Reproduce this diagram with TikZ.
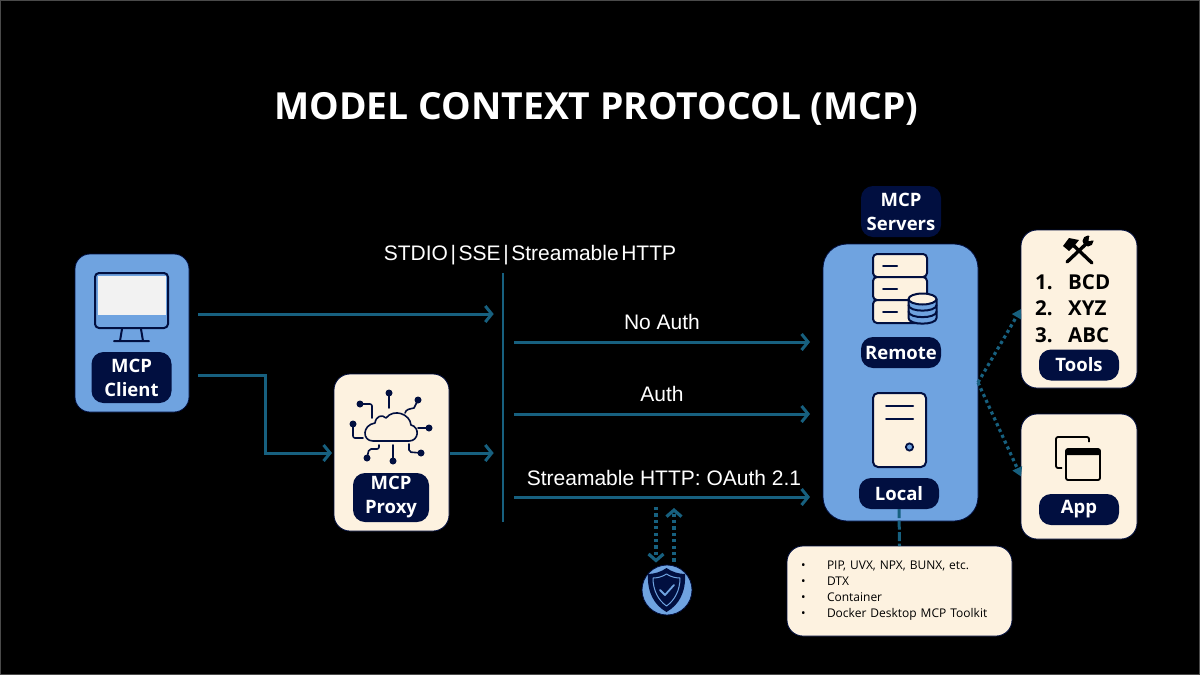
\documentclass[tikz,border=0pt]{standalone}
\usepackage{fontspec}
\setmainfont{Open Sans}
\newfontfamily\captfont{Liberation Sans}
\usetikzlibrary{arrows.meta, positioning, calc}
\definecolor{boxblue}{HTML}{6FA3E0}
\definecolor{boxcream}{HTML}{FDF2E0}
\definecolor{navy}{HTML}{010F40}
\definecolor{flowblue}{HTML}{17607F}
\definecolor{pagegrey}{HTML}{4A4A4A}

\begin{document}
\begin{tikzpicture}[x=1pt, y=-1pt,
    bluebox/.style={rectangle,draw=navy,line width=0.8pt,fill=boxblue,rounded corners=15pt,outer sep=0pt},
    creambox/.style={rectangle,draw=navy,line width=0.8pt,fill=boxcream,rounded corners=16pt,outer sep=0pt},
    darklabel/.style={rectangle,fill=navy,text=white,rounded corners=12pt,align=center,inner sep=0pt,
      minimum width=80pt,font=\fontsize{18.5}{24}\selectfont\bfseries},
    capt/.style={text=white,inner sep=0pt,font=\fontsize{21}{24}\captfont},
    flow/.style={draw=flowblue,line width=3pt,-{Straight Barb[length=6.5pt,width=16pt]}},
    dotflow/.style={draw=flowblue,line width=3.2pt,dash pattern=on 3.2pt off 3.2pt},
    icon/.style={draw=navy,line width=2pt,line join=round,line cap=round}]
  \useasboundingbox (0,0) rectangle (1200,675);
  \fill[black] (0,0) rectangle (1200,675);
  \draw[pagegrey,line width=2.6pt] (0,0) rectangle (1200,675);

  \node (title) [text=white,inner sep=0pt,font=\fontsize{37.3}{44}\selectfont\bfseries] at (596.5,109) {MODEL CONTEXT PROTOCOL (MCP)};

  % client
  \node (client) [bluebox,minimum width=114pt,minimum height=158pt] at (132,333) {};
  \node (clientlabel) [darklabel,minimum height=51pt] at (131.5,377.5) {MCP\\Client};

  % proxy
  \node (proxy) [creambox,minimum width=115pt,minimum height=157pt] at (391.5,452.5) {};
  \node (proxylabel) [darklabel,minimum width=76pt,minimum height=49pt] at (391,497.5) {MCP\\Proxy};

  % servers
  \node (servers) [bluebox,rounded corners=24pt,minimum width=155pt,minimum height=277pt] at (900.5,382.5) {};
  \node (serverstitle) [darklabel,minimum height=51pt] at (901,211.5) {MCP\\Servers};
  \node (remote) [darklabel,minimum height=31pt] at (901,352.5) {Remote};
  \node (local) [darklabel,minimum height=31pt] at (899,493.5) {Local};

  % tools and app
  \node (tools) [creambox,minimum width=116pt,minimum height=158pt] at (1079,309) {};
  \node (toolslist) [inner sep=0pt,align=left,text=black,font=\fontsize{20.5}{26.5}\selectfont\bfseries,anchor=north west] at (1035,274)
    {\makebox[33pt][l]{1.}BCD\\\makebox[33pt][l]{2.}XYZ\\\makebox[33pt][l]{3.}ABC};
  \node (toolslabel) [darklabel,minimum height=31pt] at (1079,365) {Tools};
  \node (app) [creambox,minimum width=116pt,minimum height=125pt] at (1079,476.5) {};
  \node (applabel) [darklabel,minimum height=31pt] at (1079,509.5) {App};

  % install notes
  \node (notes) [creambox,text=black,align=left,anchor=center,inner xsep=14pt,inner ysep=0pt,text width=197pt,minimum height=90pt,
    font=\fontsize{12}{16}\selectfont] at (899.5,591)
    {\makebox[26pt][l]{\textbullet}PIP, UVX, NPX, BUNX, etc.\\
     \makebox[26pt][l]{\textbullet}DTX\\
     \makebox[26pt][l]{\textbullet}Container\\
     \makebox[26pt][l]{\textbullet}Docker Desktop MCP Toolkit};

  % transport bar and captions
  \node (bar) [fill=flowblue,inner sep=0pt,minimum width=2.2pt,minimum height=249pt] at (503,397.5) {};
  \node (transport) [capt] at (530,255) {\spaceskip=2.6pt STDIO | SSE | Streamable HTTP};
  \node (noauth) [capt] at (662,322) {No Auth};
  \node (auth) [capt] at (662,394) {Auth};
  \node (oauth) [capt] at (664,478) {Streamable HTTP: OAuth 2.1};

  % shield
  \node (shield) [circle,draw=navy,line width=0.8pt,fill=boxblue,minimum size=50pt,inner sep=0pt] at (667,590) {};
  \fill[navy,line join=round] (666.5,568) .. controls (672,572) and (679,574) .. (685,574)
    .. controls (686,592) and (679,605) .. (666.5,612) .. controls (654,605) and (647,592) .. (648,574)
    .. controls (654,574) and (661,572) .. (666.5,568) -- cycle;
  \draw[boxblue,line width=1pt,line join=round] (666.5,574) .. controls (671,577) and (676,578) .. (680,578)
    .. controls (680,590) and (675,600) .. (666.5,606) .. controls (658,600) and (653,590) .. (653,578)
    .. controls (657,578) and (662,577) .. (666.5,574) -- cycle;
  \draw[boxblue,line width=1.8pt,line cap=round,line join=round] (660,590) -- (665,595) -- (674,585);

  % monitor icon
  \draw[icon,fill=boxblue,rounded corners=4pt] (95,273) rectangle (168,328);
  \fill[black!5] (97.5,276) rectangle (165.5,315);
  \draw[icon] (122,329) -- (120,341) (141,329) -- (143,341) (114,341) -- (149,341);

  % cloud icon
  \begin{scope}[navy,line width=1.6pt,line cap=round,line join=round]
    \draw (373,441) -- (409,441) .. controls (419,441) and (420,427) .. (411,425)
      .. controls (410,414) and (394,408) .. (386,418) .. controls (382,414) and (376,416) .. (375,423)
      .. controls (362,425) and (362,441) .. (373,441) -- cycle;
    \draw (389,408) -- (389,393);
    \draw (405,413) .. controls (406,409) and (410,409) .. (414,408) -- (418,400);
    \draw (418,428) -- (429,428);
    \draw[rounded corners=2pt] (409,444) -- (409,452) -- (421,453);
    \draw (393,445) -- (393,461);
    \draw[rounded corners=2pt] (379,445) -- (379,449) -- (369,449) -- (367,458);
    \draw[rounded corners=2pt] (353,424) -- (353,438) -- (363,438);
    \draw[rounded corners=2pt] (360,404) -- (372,404) -- (372,418);
    \foreach \px/\py in {389/393,418/400,429/428,421/453,393/461,367/458,353/424,360/404}
      \fill (\px,\py) circle (3.5pt);
  \end{scope}

  % remote server icon
  \foreach \rowtop in {254,277,300} {
    \draw[icon,fill=boxcream,rounded corners=4pt] (873,\rowtop) rectangle (927,\rowtop+23);
    \draw[icon] (883,\rowtop+12) -- (897,\rowtop+12);
  }
  \draw[icon,fill=boxblue] (908.5,299) -- (908.5,318) .. controls (908.5,325.5) and (936.5,325.5) .. (936.5,318) -- (936.5,299);
  \draw[icon,fill=boxcream] (922.5,299) ellipse (14pt and 5.5pt);
  \draw[icon] (908.5,305) .. controls (908.5,312.5) and (936.5,312.5) .. (936.5,305);
  \draw[icon] (908.5,311.5) .. controls (908.5,319) and (936.5,319) .. (936.5,311.5);

  % local server icon
  \draw[icon,fill=boxcream,rounded corners=5pt] (873,393) rectangle (926,467);
  \draw[icon] (886,406) -- (913,406) (886,419) -- (913,419);
  \draw[navy,line width=1.8pt,fill=boxblue] (909.5,447) circle (3.6pt);

  % tool icon
  \begin{scope}[black]
    \draw[line width=3.4pt,line cap=round] (1072,244) -- (1092,263);
    \fill (1063,246) -- (1069,238) -- (1079,240) -- (1075,245) -- (1069,251) -- cycle;
    \draw[line width=3.4pt,line cap=round] (1067,262) -- (1086,244);
    \fill (1088,241) circle (5.5pt);
    \fill[boxcream] (1088.5,241) -- (1090,233) -- (1097,240) -- cycle;
  \end{scope}

  % app icon
  \draw[draw=black,line width=1.8pt,rounded corners=2pt] (1089,442) -- (1089,437) -- (1056,437) -- (1056,468) -- (1062,468);
  \draw[draw=black,line width=1.8pt,fill=boxcream,rounded corners=2pt] (1066,449) rectangle (1100,480);
  \fill[black,rounded corners=1pt] (1066,449) rectangle (1100,455);

  % connectors
  \coordinate (clientout) at (198,314);
  \coordinate (clientdown) at (198,375);
  \coordinate (proxyin) at (265,453);
  \coordinate (proxyout) at (450,453);
  \coordinate (noauthout) at (514,342);
  \coordinate (authout) at (514,414);
  \coordinate (oauthout) at (514,497);
  \coordinate (oauthdown) at (656,507);
  \coordinate (oauthup) at (674,508);

  \draw[flow,shorten >=8pt] (clientout) -- (clientout -| bar.west);
  \draw[flow,shorten >=2pt] (clientdown) -| (proxyin) -- (proxyin -| proxy.west);
  \draw[flow,shorten >=8pt] (proxyout) -- (proxyout -| bar.west);
  \draw[flow,shorten >=13pt] (noauthout) -- (noauthout -| servers.west);
  \draw[flow,shorten >=13pt] (authout) -- (authout -| servers.west);
  \draw[flow,shorten >=13pt] (oauthout) -- (oauthout -| servers.west);
  \draw[dotflow,-{Straight Barb[length=6.5pt,width=15pt]},shorten >=2pt] (oauthdown) -- (oauthdown |- shield.north);
  \draw[dotflow,-{Straight Barb[length=6.5pt,width=15pt]},shorten <=3pt] (oauthup |- shield.north) -- (oauthup);
  \draw[dotflow,-{Triangle[length=9pt,width=10pt]}] (servers.east) -- (tools.west);
  \draw[dotflow,-{Triangle[length=9pt,width=10pt]}] (servers.east) -- (app.west);
  \draw[flowblue,line width=3pt,dash pattern=on 9pt off 2.5pt] (local.south) -- (notes.north);
\end{tikzpicture}
\end{document}
